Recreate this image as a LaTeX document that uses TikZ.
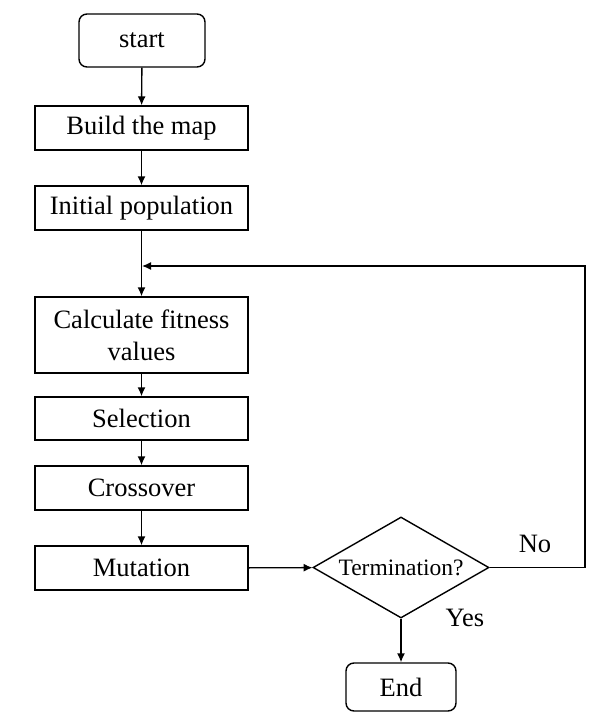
\documentclass[tikz,border=0pt]{standalone}
\usepackage{fontspec}
\setmainfont{Liberation Serif}
\usetikzlibrary{shapes.geometric, arrows.meta}
\tikzset{
  stepbox/.style={draw, line width=1.4pt, minimum width=213pt, minimum height=44pt, inner sep=0pt},
  termbox/.style={draw, line width=1.4pt, rounded corners=8pt, inner sep=0pt},
  flow/.style={->, line width=1.4pt}
}
\begin{document}
\begin{tikzpicture}[x=1pt, y=-1pt, font=\fontsize{26.5}{32}\selectfont, >={Latex[length=9pt,width=8pt]}]
  \useasboundingbox (0,0) rectangle (599,724);
  \node[termbox, minimum width=126pt, minimum height=53pt] (start) at (142,40.5) {start};
  \node[stepbox] (build) at (141.5,128) {Build the map};
  \node[stepbox] (init) at (141.5,208) {Initial population};
  \node[stepbox, minimum height=76pt, align=center] (calc) at (141.5,335) {Calculate fitness\\values};
  \node[stepbox, minimum height=43pt] (sel) at (141.5,418.5) {Selection};
  \node[stepbox] (cross) at (141.5,488) {Crossover};
  \node[stepbox] (mut) at (141.5,568) {Mutation};
  \node[diamond, draw, line width=1.4pt, aspect=1.74, minimum width=176pt, minimum height=101pt, inner sep=0pt,
        font=\fontsize{23.5}{28}\selectfont] (term) at (401,567.5) {Termination?};
  \node[termbox, minimum width=110pt, minimum height=48pt] (end) at (401,687) {End};
  \node (no) at (535,544) {No};
  \node (yes) at (465,618) {Yes};
  \coordinate (back) at (585,266);
  \coordinate (join) at (142,266);
  \draw[flow] (start) -- (build);
  \draw[flow] (build) -- (init);
  \draw[flow] (init) -- (calc);
  \draw[flow] (calc) -- (sel);
  \draw[flow] (sel) -- (cross);
  \draw[flow] (cross) -- (mut);
  \draw[flow] (mut) -- (term);
  \draw[flow] (term) -- (end);
  \draw[flow] (term.east) -| (back) -- (join);
\end{tikzpicture}
\end{document}
